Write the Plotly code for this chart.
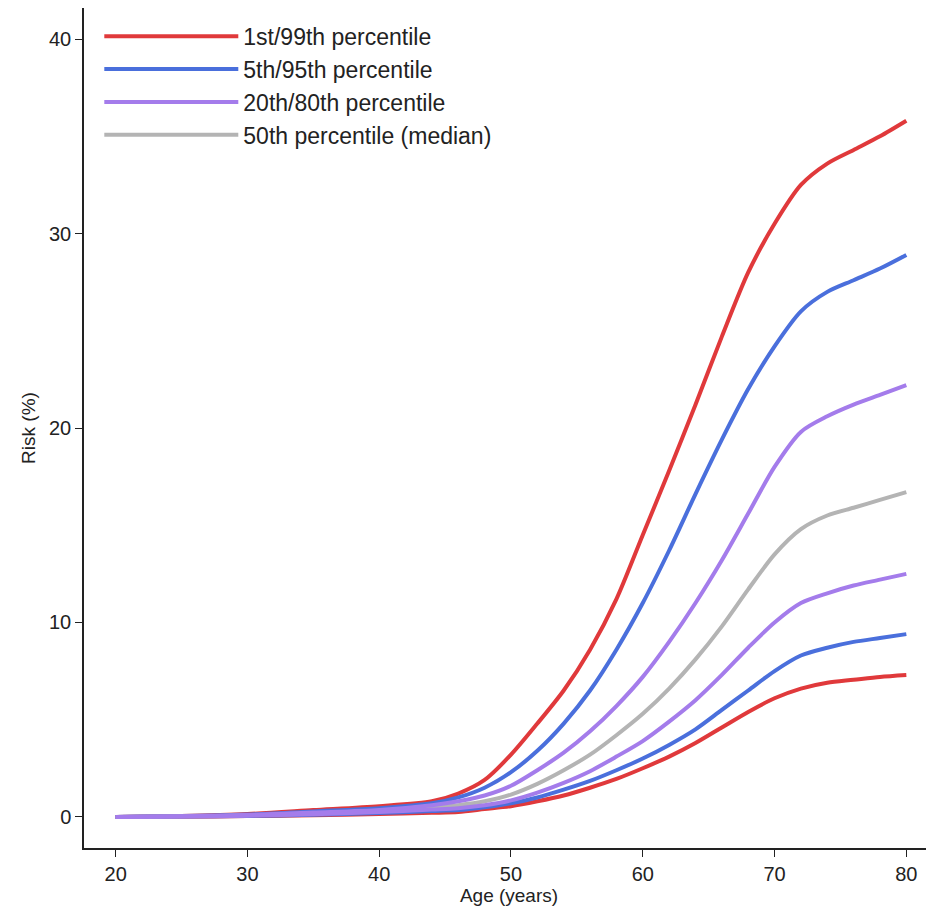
import plotly.graph_objects as go

age = [20, 25, 30, 35, 40, 44, 46, 48, 50, 52, 54, 56, 58, 60, 62, 64, 66, 68, 70, 72, 74, 76, 78, 80]

red_hi = [0, 0.05, 0.15, 0.35, 0.55, 0.8, 1.2, 1.9, 3.2, 4.8, 6.5, 8.6, 11.2, 14.5, 17.8, 21.2, 24.7, 28.0, 30.5, 32.5, 33.6, 34.3, 35.0, 35.8]
blue_hi = [0, 0.04, 0.12, 0.28, 0.45, 0.7, 1.0, 1.5, 2.3, 3.4, 4.8, 6.5, 8.6, 11.0, 13.7, 16.6, 19.4, 22.0, 24.2, 26.0, 27.0, 27.6, 28.2, 28.9]
purple_hi = [0, 0.03, 0.1, 0.22, 0.35, 0.6, 0.8, 1.1, 1.6, 2.4, 3.3, 4.4, 5.7, 7.2, 9.0, 11.0, 13.2, 15.6, 18.0, 19.8, 20.6, 21.2, 21.7, 22.2]
median = [0, 0.03, 0.08, 0.18, 0.3, 0.48, 0.6, 0.8, 1.15, 1.7, 2.4, 3.2, 4.2, 5.3, 6.6, 8.1, 9.8, 11.7, 13.5, 14.8, 15.5, 15.9, 16.3, 16.7]
purple_lo = [0, 0.02, 0.06, 0.14, 0.25, 0.38, 0.45, 0.6, 0.85, 1.25, 1.75, 2.35, 3.1, 3.9, 4.9, 6.0, 7.3, 8.7, 10.0, 11.0, 11.5, 11.9, 12.2, 12.5]
blue_lo = [0, 0.02, 0.05, 0.11, 0.2, 0.3, 0.35, 0.5, 0.7, 1.0, 1.4, 1.85, 2.4, 3.0, 3.7, 4.5, 5.5, 6.5, 7.5, 8.3, 8.7, 9.0, 9.2, 9.4]
red_lo = [0, 0.01, 0.04, 0.08, 0.15, 0.21, 0.25, 0.4, 0.55, 0.8, 1.1, 1.5, 1.95, 2.5, 3.1, 3.8, 4.6, 5.4, 6.1, 6.6, 6.9, 7.05, 7.2, 7.3]

labels = ["1st/99th percentile", "5th/95th percentile", "20th/80th percentile", "50th percentile (median)"]
colors = ["#E0393B", "#4A6FDC", "#A47CEB", "#B4B4B4"]

series = [
    (red_hi, 0, True), (red_lo, 0, False),
    (blue_hi, 1, True), (blue_lo, 1, False),
    (median, 3, True),
    (purple_hi, 2, True), (purple_lo, 2, False),
]

FONT = "Liberation Sans, Arial, sans-serif"

fig = go.Figure()
for ys, idx, show in series:
    fig.add_trace(go.Scatter(
        x=age, y=ys, mode="lines", name=labels[idx],
        line=dict(color=colors[idx], width=4, shape="spline", smoothing=0.8),
        showlegend=show, legendgroup=labels[idx],
        legendrank=idx + 1,
    ))

axis_common = dict(
    showline=True, linecolor="#222", linewidth=1.5,
    ticks="outside", ticklen=7, tickcolor="#222", tickwidth=1.2,
    showgrid=False, zeroline=False, automargin=False,
    tickfont=dict(family=FONT, size=20, color="#222"),
)

fig.update_layout(
    width=926, height=904,
    margin=dict(l=76, r=0, t=0, b=64),
    plot_bgcolor="white", paper_bgcolor="white",
    font=dict(family=FONT, color="#222"),
    xaxis=dict(range=[17.6, 82.1], tickvals=[20, 30, 40, 50, 60, 70, 80],
               title=dict(text="Age (years)", font=dict(size=19), standoff=4),
               mirror=True, **axis_common),
    yaxis=dict(range=[-1.6, 41.6], tickvals=[0, 10, 20, 30, 40],
               title=dict(text="Risk (%)", font=dict(size=19), standoff=8),
               **axis_common),
    legend=dict(x=0.018, y=0.992, xanchor="left", yanchor="top",
                bgcolor="rgba(0,0,0,0)", itemwidth=134,
                font=dict(size=23, family=FONT, color="#222"),
                tracegroupgap=0, traceorder="normal"),
)

fig.write_html("out.html")
